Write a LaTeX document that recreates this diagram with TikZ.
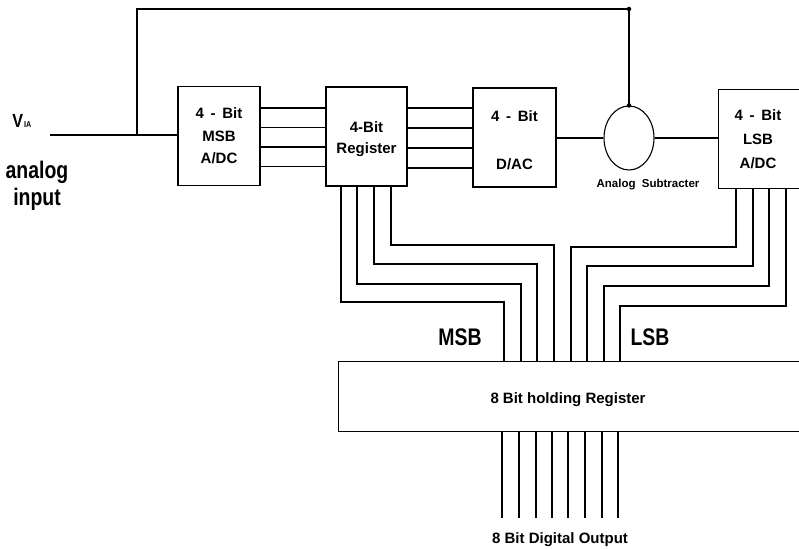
\documentclass[tikz,border=0pt]{standalone}
\usepackage{fontspec}
\setmainfont{Liberation Sans}
\usetikzlibrary{shapes.geometric}
\newcommand{\dsh}{\hspace{0.45em}-\hspace{0.45em}}
\begin{document}
\begin{tikzpicture}[x=1pt,y=-1pt,line width=1.1pt,
  blk/.style={draw,minimum width=#1,minimum height=99pt,inner sep=0pt,align=center,
    font=\fontsize{15}{22.5}\selectfont\bfseries},
  txt/.style={inner sep=0pt,align=center,font=\fontsize{15}{18}\selectfont\bfseries},
  big/.style={inner sep=0pt,xscale=0.81,align=center,font=\fontsize{24}{27}\selectfont\bfseries},
  dot/.style={circle,fill,inner sep=0pt,minimum size=4.5pt}]
\useasboundingbox (0,0) rectangle (799,548);
% blocks
\node[blk=82pt] (msb) at (219,136) {4\dsh Bit\\MSB\\A/DC};
\node[blk=81pt] (reg) at (366.5,136.5) {};
\node[txt,font=\fontsize{15}{21}\selectfont\bfseries] (regt) at (366.5,139.5) {4-Bit\\Register};
\node[blk=83pt] (dac) at (514.5,137.5) {};
\node[txt,font=\fontsize{15}{48}\selectfont\bfseries] (dact) at (514.5,140) {4\dsh Bit\\D/AC};
\node[draw,ellipse,minimum width=50pt,minimum height=64pt,inner sep=0pt] (sub) at (629,138) {};
\node[blk=78pt,draw=none,minimum height=98pt,font=\fontsize{15}{24}\selectfont\bfseries] (lsb) at (758,139) {4\dsh Bit\\LSB\\A/DC};
\draw (lsb.north west -| 799,0) -- (lsb.north west) -- (lsb.south west) -- (lsb.south west -| 799,0);
\node[minimum width=458pt,minimum height=69pt,inner sep=0pt] (hold) at (568,396.5) {};
\draw (hold.north west -| 799,0) -- (hold.north west) -- (hold.south west) -- (hold.south west -| 799,0);
\node[txt,anchor=base] (holdl) at (568,403) {8 Bit holding Register};
% input and feedback
\coordinate (vin) at (50,135);
\coordinate (j) at (137,135);
\coordinate (fbl) at (137,9);
\coordinate (fbr) at (629,9);
\draw (vin) -- (j) -- (j -| msb.west);
\draw (j) -- (fbl) -- (fbr) -- (sub.north);
\node[dot] (d1) at (fbr) {};
\node[dot] (d2) at (sub.north) {};
% buses
\foreach \y in {108,127.5,147,166.5} \draw (msb.east |- 0,\y) -- (reg.west |- 0,\y);
\foreach \y in {108,128,148,168} \draw (reg.east |- 0,\y) -- (dac.west |- 0,\y);
\draw (dac.east |- sub.west) -- (sub.west);
\draw (sub.east) -- (sub.east -| lsb.west);
\foreach \xa/\yt/\xb in {341/302/504, 357/284/521, 374/264/537, 391/245/554}
  \draw (reg.south -| \xa,0) |- (\xb,\yt) -- (hold.north -| \xb,0);
\foreach \xa/\yt/\xb in {736/247/571, 753/266/587, 769/286/604, 786/306/620}
  \draw (lsb.south -| \xa,0) |- (\xb,\yt) -- (hold.north -| \xb,0);
\foreach \x [count=\i] in {502,519,536,552,568,585,602,618}{
  \coordinate (o\i) at (\x,518);
  \draw (hold.south -| o\i) -- (o\i);}
% labels
\node[inner sep=0pt,anchor=base west,font=\fontsize{19}{19}\selectfont\bfseries,xscale=0.85] (vlab) at (12,128) {V\hspace{1pt}{\fontsize{8.5}{9}\selectfont IA}};
\node[big] (ain) at (37,186) {analog\\input};
\node[inner sep=0pt,anchor=base,font=\fontsize{11.5}{12}\selectfont\bfseries] (subl) at (648,187) {Analog\hspace{0.55em}Subtracter};
\node[big,anchor=base] (msbl) at (460,345) {MSB};
\node[big,anchor=base] (lsbl) at (650,345) {LSB};
\node[txt,anchor=base] (outl) at (560,543.5) {8 Bit Digital Output};
\end{tikzpicture}
\end{document}
